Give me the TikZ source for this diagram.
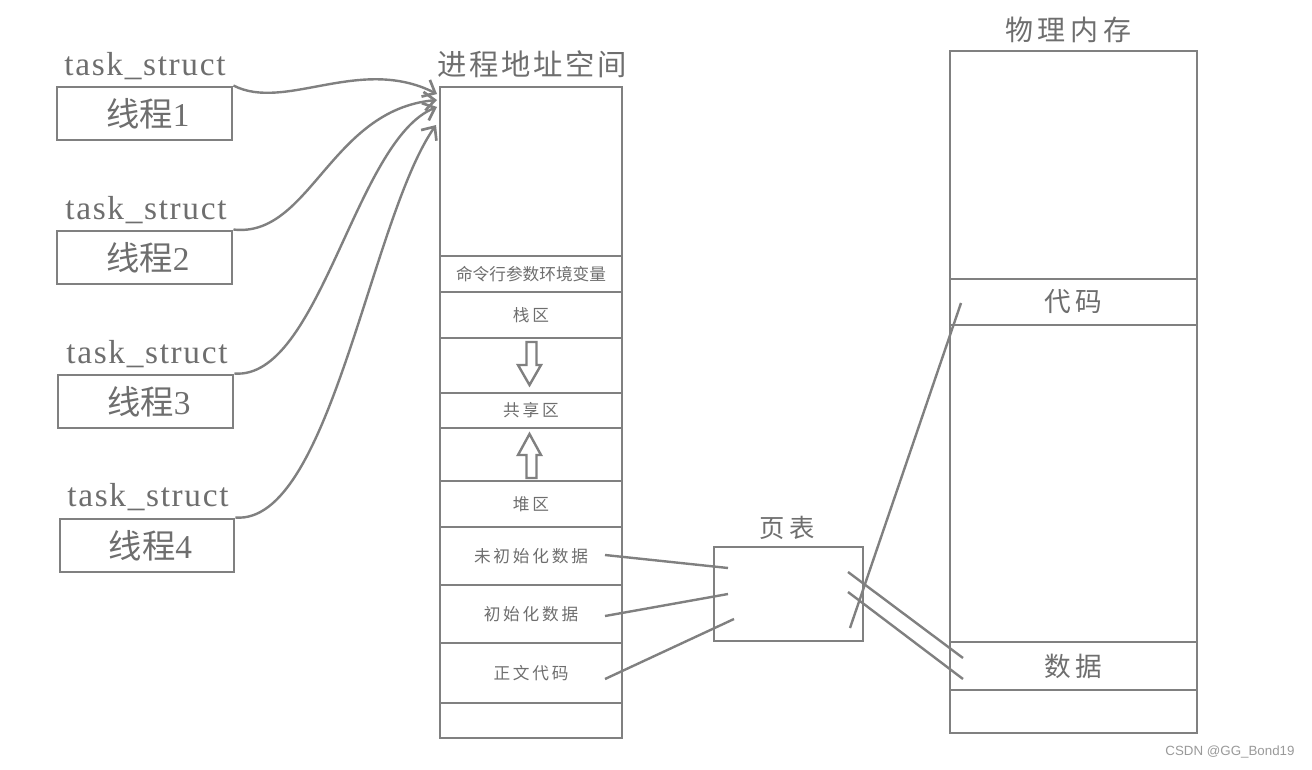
\documentclass[tikz,border=0pt]{standalone}
\usepackage{fontspec}
\setmainfont{Liberation Serif}
\newfontfamily\tsfont{Liberation Serif}[LetterSpace=5]
\newfontfamily\cjk{Noto Sans CJK SC}
\newfontfamily\wmfont{Liberation Sans}
\usetikzlibrary{arrows.meta}
\definecolor{ln}{HTML}{808080}
\definecolor{tx}{HTML}{6E6E6E}
\definecolor{wmc}{HTML}{9A9A9A}
\newcommand{\pbox}[7]{\node[#6, minimum width={(#4-#2)*0.75pt}, minimum height={(#5-#3)*0.75pt}] (#1) at ({(#2+#4)/2},{(#3+#5)/2}) {#7};}
\begin{document}
\begin{tikzpicture}[x=0.75pt,y=-0.75pt]
\tikzset{
  boxst/.style={draw=ln, line width=2.2pt, inner sep=0pt, text=tx},
  seg/.style={boxst, font=\cjk\fontsize{12.5}{14}\selectfont},
  thr/.style={boxst, font=\fontsize{25}{28}\selectfont},
  mem/.style={boxst, font=\cjk\fontsize{20}{24}\selectfont},
  lbl/.style={inner sep=0pt, text=tx},
  tsl/.style={lbl, font=\tsfont\fontsize{25}{28}\selectfont},
  conn/.style={draw=ln, line width=1.8pt},
  curv/.style={conn, -{Straight Barb[length=8pt,width=14pt,line width=2pt]}},
  hollow/.style={draw=ln, line width=1.8pt, fill=white, line join=miter}
}
\useasboundingbox[fill=white] (0,0) rectangle (1312,770);

% threads
\pbox{t1}{57}{87}{232}{140}{thr}{\hspace{5pt}{\cjk 线程}1}
\pbox{t2}{57}{231}{232}{284}{thr}{\hspace{5pt}{\cjk 线程}2}
\pbox{t3}{58}{375}{233}{428}{thr}{\hspace{5pt}{\cjk 线程}3}
\pbox{t4}{60}{519}{234}{572}{thr}{\hspace{5pt}{\cjk 线程}4}
\node[tsl] (l1) at (145,66) {task\_struct};
\node[tsl] (l2) at (146,210) {task\_struct};
\node[tsl] (l3) at (147,354) {task\_struct};
\node[tsl] (l4) at (148,497) {task\_struct};

% process address space
\node[lbl, font=\cjk\fontsize{22}{26}\selectfont] (asT) at (532,64) {进\kern2pt 程\kern2pt 地\kern2pt 址\kern2pt 空\kern2pt 间};
\pbox{a0}{440}{87}{622}{256}{seg}{}
\pbox{a1}{440}{256}{622}{292}{seg}{命令行参数环境变量}
\pbox{a2}{440}{292}{622}{338}{seg}{栈\,区}
\pbox{a3}{440}{338}{622}{393}{seg}{}
\pbox{a4}{440}{393}{622}{428}{seg}{共\,享\,区}
\pbox{a5}{440}{428}{622}{481}{seg}{}
\pbox{a6}{440}{481}{622}{527}{seg}{堆\,区}
\pbox{a7}{440}{527}{622}{585}{seg}{未\,初\,始\,化\,数\,据}
\pbox{a8}{440}{585}{622}{643}{seg}{初\,始\,化\,数\,据}
\pbox{a9}{440}{643}{622}{703}{seg}{正\,文\,代\,码}
\pbox{a10}{440}{703}{622}{738}{seg}{}

% hollow arrows
\draw[hollow] (526.5,342) -- (536.5,342) -- (536.5,365) -- (541,365) -- (529.5,385) -- (518,365) -- (526.5,365) -- cycle;
\draw[hollow] (526.5,478) -- (536.5,478) -- (536.5,455) -- (541,455) -- (529.5,434) -- (518,455) -- (526.5,455) -- cycle;

% curves thread -> address space
\coordinate (e1) at (437,94);
\coordinate (e2) at (437,100);
\coordinate (e3) at (437,107);
\coordinate (e4) at (436,125);
\draw[curv] (t1.north east) .. controls (285,112) and (360,55) .. (e1);
\draw[curv] (t2.north east) .. controls (310,238) and (330,110) .. (e2);
\draw[curv] (t3.north east) .. controls (320,380) and (355,140) .. (e3);
\draw[curv] (t4.north east) .. controls (330,525) and (370,220) .. (e4);

% page table
\node[lbl, font=\cjk\fontsize{19}{22}\selectfont] (ptT) at (787,528) {页\,表};
\pbox{pt}{714}{547}{863}{641}{boxst}{}
\coordinate (s1) at (605,555);
\coordinate (s2) at (605,616);
\coordinate (s3) at (605,679);
\coordinate (p1) at (728,568);
\coordinate (p2) at (728,594);
\coordinate (p3) at (734,619);
\draw[conn] (s1) -- (p1);
\draw[conn] (s2) -- (p2);
\draw[conn] (s3) -- (p3);

% physical memory
\node[lbl, font=\cjk\fontsize{21}{24}\selectfont] (pmT) at (1068,30) {物\,理\,内\,存};
\pbox{m0}{950}{51}{1197}{279}{mem}{}
\pbox{m1}{950}{279}{1197}{325}{mem}{代\,码}
\pbox{m2}{950}{325}{1197}{642}{mem}{}
\pbox{m3}{950}{642}{1197}{690}{mem}{数\,据}
\pbox{m4}{950}{690}{1197}{733}{mem}{}

\coordinate (q1) at (850,628);
\coordinate (c1) at (961,303);
\coordinate (q2) at (848,572);
\coordinate (d1) at (963,658);
\coordinate (q3) at (848,592);
\coordinate (d2) at (963,679);
\draw[conn] (q1) -- (c1);
\draw[conn] (q2) -- (d1);
\draw[conn] (q3) -- (d2);

\node[lbl, text=wmc, font=\wmfont\fontsize{10}{12}\selectfont] (wm) at (1230,752) {CSDN @GG\_Bond19};
\end{tikzpicture}
\end{document}
